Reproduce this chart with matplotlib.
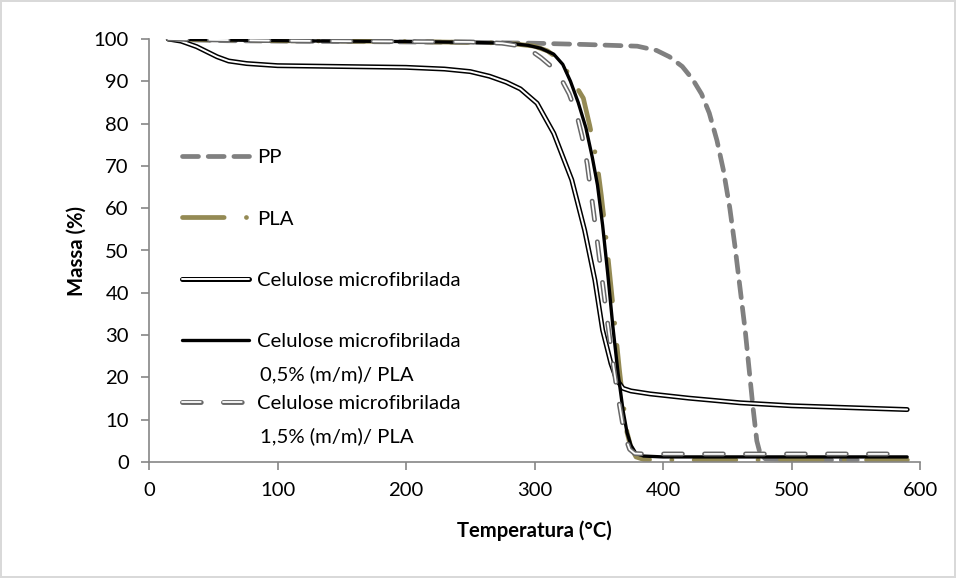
import matplotlib
matplotlib.use('Agg')
import matplotlib.pyplot as plt
from matplotlib.legend import Legend

plt.rcParams['font.family'] = ['Lato', 'DejaVu Sans']
plt.rcParams['lines.scale_dashes'] = False

# === Data ===
pp_t = [15, 30, 60, 100, 150, 200, 250, 300, 340, 380, 395, 405, 415, 423, 430, 436, 442, 447,
        452, 456, 460, 464, 467, 470, 473, 476, 480, 500, 550, 590]
pp_m = [100, 99.8, 99.6, 99.5, 99.4, 99.3, 99.2, 99.0, 98.7, 98.3, 97.3, 95.8, 93.5, 90.5, 87,
        82.5, 76, 69, 60, 51, 41, 31, 22, 13, 5, 1.5, 0.7, 0.5, 0.5, 0.5]

pla_t = [15, 50, 100, 150, 200, 250, 280, 300, 310, 318, 325, 332, 338, 343, 346, 349, 352, 355,
         358, 361, 363, 366, 369, 372, 375, 379, 385, 400, 450, 500, 550, 590]
pla_m = [100, 99.8, 99.6, 99.5, 99.4, 99.2, 99.0, 98.3, 97.2, 95.5, 92.5, 89, 86, 79.5, 75, 70,
         63, 55, 46, 37, 31, 22, 14, 7, 3.5, 1.2, 0.6, 0.5, 0.5, 0.5, 0.5, 0.5]

cel_t = [15, 25, 37, 45, 53, 62, 76, 100, 150, 200, 230, 250, 265, 278, 289, 302, 315, 329, 339,
         347, 353, 359.5, 364, 369, 375, 390, 420, 460, 500, 550, 590]
cel_m = [100, 99.5, 98.2, 97, 95.8, 94.8, 94.2, 93.7, 93.5, 93.3, 92.9, 92.3, 91.2, 89.8, 88.2,
         84.8, 77.7, 66.7, 54.8, 43, 31.2, 23.3, 19.4, 17.4, 16.8, 16.1, 15.1, 14.0, 13.3, 12.8, 12.4]

c05_t = [15, 50, 100, 150, 200, 250, 280, 295, 305, 315, 322, 328, 334, 340, 345, 349, 353, 357,
         361, 365, 369, 372, 375, 379, 385, 400, 450, 500, 550, 590]
c05_m = [100, 99.8, 99.6, 99.5, 99.4, 99.2, 99.0, 98.5, 97.8, 96.4, 94, 90, 85, 79, 72, 65.5, 56,
         44.5, 32, 21, 12, 7, 4, 2, 1.4, 1.2, 1.2, 1.2, 1.2, 1.2]

c15_t = [15, 50, 100, 150, 200, 250, 275, 288, 297, 305, 312, 320, 327, 333, 337, 341, 346, 351,
         356, 361, 365, 370, 374, 378, 385, 400, 450, 500, 550, 590]
c15_m = [100, 99.8, 99.6, 99.5, 99.4, 99.3, 99.0, 98.4, 97.3, 95.6, 93.8, 91, 87, 82, 77, 70.5,
         59, 47, 35, 23.5, 15.5, 6.5, 3, 2, 1.9, 1.9, 1.9, 1.9, 1.9, 1.9]

labels = ['PP', 'PLA', 'Celulose microfibrilada', 'Celulose microfibrilada',
          'Celulose microfibrilada']
second_lines = [None, None, None, '0,5% (m/m)/ PLA', '1,5% (m/m)/ PLA']

FS = 14.6

# === Figure ===
W, H = 956, 578
fig = plt.figure(figsize=(W / 100, H / 100), dpi=100)
fig.patch.set_edgecolor('#D9D9D9')
fig.patch.set_linewidth(1.5)
ax = fig.add_axes([149 / W, 1 - 462 / H, (920 - 149) / W, (462 - 39) / H])

# PP
pp_line, = ax.plot(pp_t, pp_m, color='#808080', lw=3.4, dashes=(11.5, 7),
                   dash_capstyle='round', solid_capstyle='round')
# PLA
pla_line, = ax.plot(pla_t, pla_m, color='#948A54', lw=3.4, dashes=(30, 16, 0.1, 16),
                    dash_capstyle='round')
# Celulose microfibrilada (double line)
cel_out, = ax.plot(cel_t, cel_m, color='black', lw=3.6, solid_capstyle='round')
cel_in, = ax.plot(cel_t, cel_m, color='white', lw=1.4, solid_capstyle='round')
# 0,5 %
c05_line, = ax.plot(c05_t, c05_m, color='black', lw=2.4, solid_capstyle='round')
# 1,5 % (dashed double line)
c15_out, = ax.plot(c15_t, c15_m, color='#686868', lw=3.5, dashes=(13.5, 16),
                   dash_capstyle='round')
c15_in, = ax.plot(c15_t, c15_m, color='white', lw=1.3, dashes=(13.5, 16),
                  dash_capstyle='round')

ax.set_xlim(0, 600)
ax.set_ylim(0, 100)
ax.set_xticks(range(0, 601, 100))
ax.set_yticks(range(0, 101, 10))
for s in ['top', 'right']:
    ax.spines[s].set_visible(False)
for s in ['left', 'bottom']:
    ax.spines[s].set_color('#868686')
    ax.spines[s].set_linewidth(1.2)
ax.tick_params(axis='both', direction='out', length=5.5, width=1.2, color='#868686',
               labelsize=FS, pad=9)
ax.set_xlabel('Temperatura (°C)', fontsize=FS, fontweight='bold', labelpad=15)
ax.set_ylabel('Massa (%)', fontsize=FS, fontweight='bold', labelpad=5)

# === Legend (one small legend per entry, Excel-style spacing) ===
handles = [pp_line, pla_line, (cel_out, cel_in), c05_line, (c15_out, c15_in)]
rows_y = [157, 219, 280, 341, 403]
for h, lab, y, extra in zip(handles, labels, rows_y, second_lines):
    leg = Legend(ax, [h], [lab], loc='center left', bbox_to_anchor=(182 / W, 1 - y / H),
                 bbox_transform=fig.transFigure, frameon=False, fontsize=FS,
                 handlelength=3.3, handletextpad=0.4, borderpad=0, borderaxespad=0)
    ax.add_artist(leg)
    if extra:
        fig.text(260 / W, 1 - (y + 33) / H, extra, fontsize=FS, va='center', ha='left')

fig.savefig('out.png', dpi=100, edgecolor=fig.get_edgecolor())
